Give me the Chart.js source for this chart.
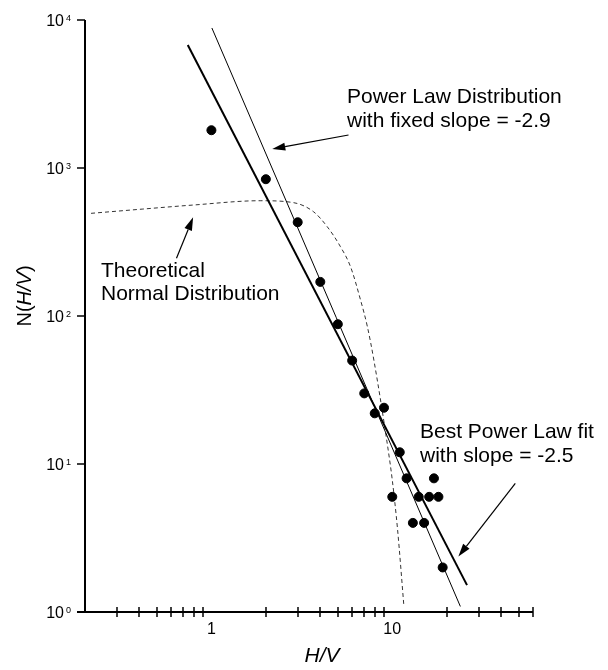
<!DOCTYPE html>
<html>
<head>
<meta charset="utf-8">
<script src="https://cdn.jsdelivr.net/npm/chart.js@4.4.1/dist/chart.umd.min.js"></script>
<style>
  html, body { margin: 0; padding: 0; background: #fff; }
  #wrap { width: 608px; height: 670px; }
</style>
</head>
<body>
<div id="wrap"><canvas id="chart" width="608" height="670"></canvas></div>
<script>
// measured counts per H/V bin
const hvValues = [1, 2, 3, 4, 5, 6, 7, 8, 9, 10, 11, 12, 13, 14, 15, 16, 17, 18, 19];
const counts = [1800, 840, 430, 170, 88, 50, 30, 22, 24, 6, 12, 8, 4, 6, 4, 6, 8, 6, 2];

// best power law fit (slope -2.5), end points
const fitX = [0.74, 25.9];
const fitY = [6780, 1.52];

// power law with fixed slope -2.9, end points
const fixedX = [1.006, 23.8];
const fixedY = [8830, 1.09];

// theoretical normal distribution
const normalX = [0.216, 0.418, 0.792, 1.86, 2.85, 3.68, 4.37, 5.17, 5.88, 6.68, 7.28, 7.92, 9.4, 10.0, 10.7, 11.6];
const normalY = [494, 528, 562, 601, 583, 505, 401, 294, 215, 128, 85, 50, 13.5, 7.8, 3.6, 1.09];

// axis ticks
const xMinorTicks = [0.3, 0.4, 0.5, 0.6, 0.7, 0.8, 0.9, 2, 3, 4, 5, 6, 7, 8, 9, 20, 30, 40, 50, 60];
const xTickLabels = [1, 10];
const yTickExps = [0, 1, 2, 3, 4];

// annotation arrows (tail -> head, data coords)
const arrowFromX = [5.73, 0.641, 47.9];
const arrowFromY = [1671, 245.5, 7.41];
const arrowToX = [2.17, 0.792, 23.2];
const arrowToY = [1343, 464, 2.37];

const fontFamily = '"Liberation Sans", Arial, Helvetica, sans-serif';

const toPoints = (xs, ys) => xs.map((v, i) => ({ x: v, y: ys[i] }));

const axesPlugin = {
  id: 'axes',
  afterDatasetsDraw(chart) {
    const { ctx, chartArea: a, scales: { x, y } } = chart;
    ctx.save();
    ctx.strokeStyle = '#000';
    ctx.fillStyle = '#000';

    // axis lines
    ctx.lineWidth = 2;
    ctx.beginPath();
    ctx.moveTo(a.left, a.top);
    ctx.lineTo(a.left, a.bottom);
    ctx.moveTo(a.left - 8, a.bottom);
    ctx.lineTo(a.right, a.bottom);
    ctx.stroke();

    // y decade ticks + labels
    ctx.lineWidth = 1.5;
    yTickExps.forEach(e => {
      const py = Math.round(y.getPixelForValue(Math.pow(10, e)));
      ctx.beginPath();
      ctx.moveTo(a.left - 8, py);
      ctx.lineTo(a.left, py);
      ctx.stroke();
      ctx.font = '16px ' + fontFamily;
      ctx.textAlign = 'right';
      ctx.textBaseline = 'alphabetic';
      ctx.fillText('10', 64, py + 6);
      ctx.font = '9px ' + fontFamily;
      ctx.textAlign = 'left';
      ctx.fillText(String(e), 66, py + 1);
    });

    // x minor ticks crossing the axis
    xMinorTicks.forEach(v => {
      const px = Math.round(x.getPixelForValue(v));
      ctx.beginPath();
      ctx.moveTo(px, a.bottom - 5);
      ctx.lineTo(px, a.bottom + 5);
      ctx.stroke();
    });
    ctx.font = '16px ' + fontFamily;
    ctx.textAlign = 'center';
    ctx.textBaseline = 'alphabetic';
    xTickLabels.forEach(v => {
      ctx.fillText(String(v), x.getPixelForValue(v), 634);
    });

    // x title
    ctx.font = 'italic 21px ' + fontFamily;
    ctx.fillText('H/V', 322, 662);

    // y title, rotated
    const parts = [['N(', ''], ['H/V', 'italic '], [')', '']];
    ctx.save();
    ctx.translate(31, 296);
    ctx.rotate(-Math.PI / 2);
    let total = 0;
    parts.forEach(p => { ctx.font = p[1] + '20px ' + fontFamily; total += ctx.measureText(p[0]).width; });
    let cx = -total / 2;
    ctx.textAlign = 'left';
    parts.forEach(p => {
      ctx.font = p[1] + '20px ' + fontFamily;
      ctx.fillText(p[0], cx, 0);
      cx += ctx.measureText(p[0]).width;
    });
    ctx.restore();

    // annotations
    ctx.font = '21px ' + fontFamily;
    ctx.textAlign = 'left';
    ctx.fillText('Power Law Distribution', 347, 103);
    ctx.fillText('with fixed slope = -2.9', 347, 127);
    ctx.fillText('Theoretical', 101, 277);
    ctx.fillText('Normal Distribution', 101, 300);
    ctx.fillText('Best Power Law fit', 420, 438);
    ctx.fillText('with slope = -2.5', 420, 462);

    ctx.lineWidth = 1.2;
    arrowFromX.forEach((fx, i) => {
      const x0 = x.getPixelForValue(fx), y0 = y.getPixelForValue(arrowFromY[i]);
      const x1 = x.getPixelForValue(arrowToX[i]), y1 = y.getPixelForValue(arrowToY[i]);
      const ang = Math.atan2(y1 - y0, x1 - x0);
      const len = 13, half = 4;
      const bx = x1 - len * Math.cos(ang), by = y1 - len * Math.sin(ang);
      ctx.beginPath();
      ctx.moveTo(x0, y0);
      ctx.lineTo(bx, by);
      ctx.stroke();
      ctx.beginPath();
      ctx.moveTo(x1, y1);
      ctx.lineTo(bx + half * Math.sin(ang), by - half * Math.cos(ang));
      ctx.lineTo(bx - half * Math.sin(ang), by + half * Math.cos(ang));
      ctx.closePath();
      ctx.fill();
    });
    ctx.restore();
  }
};

new Chart(document.getElementById('chart'), {
  type: 'scatter',
  data: {
    datasets: [
      {
        label: 'N(H/V)',
        data: toPoints(hvValues, counts),
        backgroundColor: '#000',
        borderColor: '#000',
        pointRadius: 4.5,
        pointHoverRadius: 4.5
      },
      {
        label: 'Best fit',
        data: toPoints(fitX, fitY),
        showLine: true,
        borderColor: '#000',
        borderWidth: 2,
        pointRadius: 0
      },
      {
        label: 'Fixed slope',
        data: toPoints(fixedX, fixedY),
        showLine: true,
        borderColor: '#000',
        borderWidth: 1,
        pointRadius: 0
      },
      {
        label: 'Normal',
        data: toPoints(normalX, normalY),
        showLine: true,
        borderColor: '#333',
        borderWidth: 1,
        borderDash: [4, 3],
        cubicInterpolationMode: 'monotone',
        pointRadius: 0
      }
    ]
  },
  options: {
    responsive: false,
    animation: false,
    layout: { padding: { left: 85, right: 75, top: 20, bottom: 58 } },
    plugins: { legend: { display: false }, tooltip: { enabled: false } },
    scales: {
      x: { type: 'logarithmic', min: 0.2, max: 60, display: false },
      y: { type: 'logarithmic', min: 1, max: 10000, display: false }
    }
  },
  plugins: [axesPlugin]
});
</script>
</body>
</html>
